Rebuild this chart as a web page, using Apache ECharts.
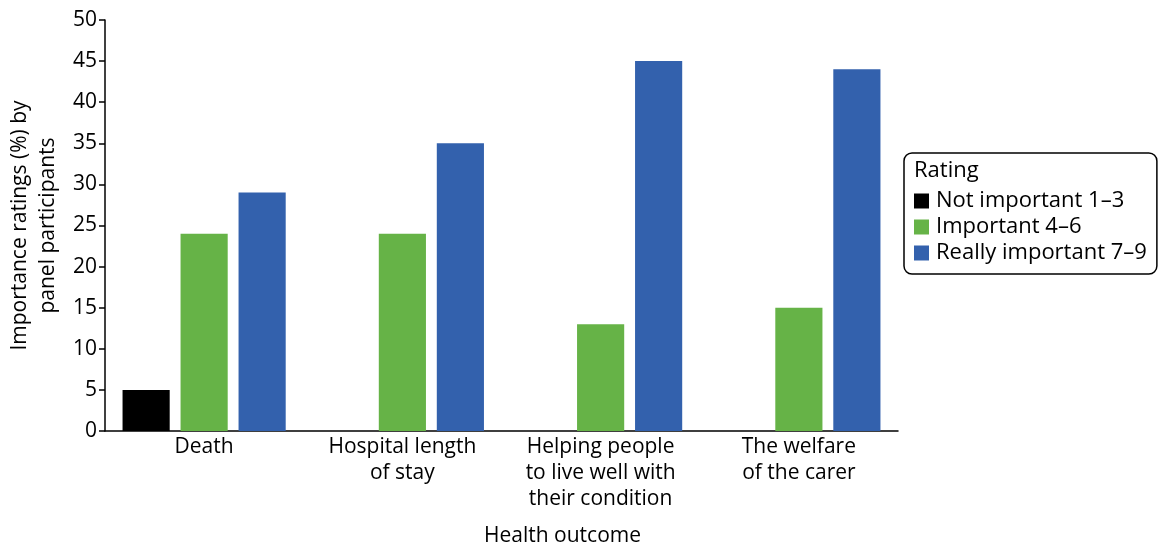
<!DOCTYPE html>
<html><head><meta charset="utf-8">
<script src="https://cdn.jsdelivr.net/npm/echarts@6/dist/echarts.min.js"></script>
<style>html,body{margin:0;padding:0;background:#fff}#c{width:1158px;height:546px}</style>
</head><body><div id="c"></div>
<script>
const categories = ['Death', 'Hospital length\nof stay', 'Helping people\nto live well with\ntheir condition', 'The welfare\nof the carer'];
const seriesNames = ['Not important 1–3', 'Important 4–6', 'Really important 7–9'];
const notImportant = [5, null, null, null];
const important = [24, 24, 13, 15];
const reallyImportant = [29, 35, 45, 44];
const yTicks = [0, 5, 10, 15, 20, 25, 30, 35, 40, 45, 50];
const colors = ['#000000', '#66b347', '#3361ad'];
const font = 'Open Sans';

const chart = echarts.init(document.getElementById('c'));
chart.setOption({
  animation: false,
  textStyle: { fontFamily: font },
  grid: { left: 105, right: 260, top: 20, bottom: 115, containLabel: false, outerBoundsMode: 'none' },
  legend: {
    orient: 'vertical', left: 904, top: 153,
    padding: [37, 10, 10, 10], itemGap: 4,
    itemWidth: 15, itemHeight: 15, icon: 'rect',
    borderColor: '#000', borderWidth: 1.5, borderRadius: 8,
    textStyle: { fontSize: 22, color: '#000', fontFamily: font, padding: [0,0,0,2] },
    data: seriesNames
  },
  graphic: [{ type: 'text', left: 914, top: 160, style: { text: 'Rating', fontSize: 22, fill: '#000', fontFamily: font } }],
  xAxis: {
    type: 'category', data: categories,
    axisLine: { lineStyle: { color: '#000', width: 1.5 } },
    axisTick: { show: false },
    axisLabel: { color: '#000', fontSize: 21, lineHeight: 26, margin: 3, interval: 0 },
    name: 'Health outcome', nameLocation: 'middle', nameGap: 95,
    nameTextStyle: { color: '#000', fontSize: 21, padding: [0, 0, 0, 122] }
  },
  yAxis: {
    type: 'value', min: 0, max: 50, interval: 5,
    axisLine: { show: true, lineStyle: { color: '#000', width: 1.5 } },
    axisTick: { show: true, length: 6, lineStyle: { color: '#000', width: 1.5 } },
    splitLine: { show: false },
    axisLabel: { color: '#000', fontSize: 21, margin: 8, formatter: v => yTicks.includes(v) ? String(v) : '' },
    name: 'Importance ratings (%) by\npanel participants', nameLocation: 'middle', nameGap: 34,
    nameTextStyle: { color: '#000', fontSize: 21, lineHeight: 28 }
  },
  series: [
    { name: seriesNames[0], type: 'bar', data: notImportant, itemStyle: { color: colors[0] }, barGap: '23%', barCategoryGap: '17.7%' },
    { name: seriesNames[1], type: 'bar', data: important, itemStyle: { color: colors[1] } },
    { name: seriesNames[2], type: 'bar', data: reallyImportant, itemStyle: { color: colors[2] } }
  ]
});
</script></body></html>
